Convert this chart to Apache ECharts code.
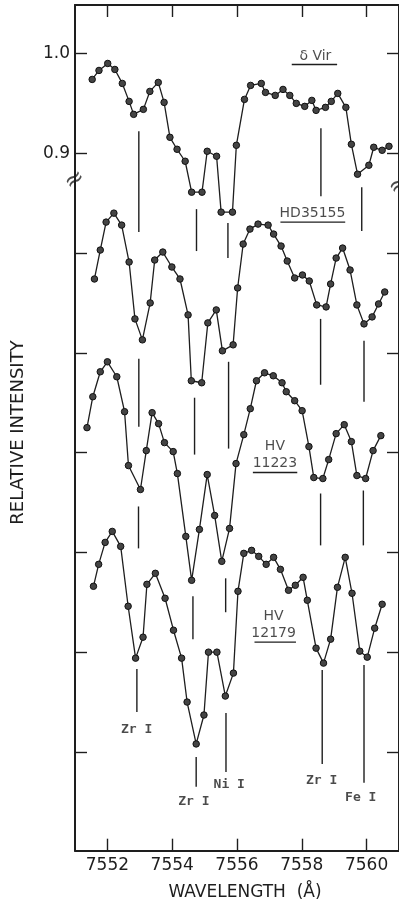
<!DOCTYPE html>
<html>
<head>
<meta charset="utf-8">
<script src="https://cdn.jsdelivr.net/npm/echarts@6/dist/echarts.min.js"></script>
<style>
  html, body { margin: 0; padding: 0; background: #ffffff; }
  #chart { width: 399px; height: 904px; }
</style>
</head>
<body>
<div id="chart"></div>
<script>
// Spectra: [wavelength (Å), relative intensity on the shared, offset scale]
const deltaVir = [
  [7551.53,0.974],[7551.74,0.983],[7552.01,0.990],[7552.23,0.984],[7552.46,0.970],[7552.67,0.952],
  [7552.81,0.939],[7553.11,0.944],[7553.31,0.962],[7553.57,0.971],[7553.75,0.951],[7553.93,0.916],
  [7554.15,0.904],[7554.40,0.892],[7554.60,0.861],[7554.92,0.861],[7555.08,0.902],[7555.37,0.897],
  [7555.51,0.841],[7555.86,0.841],[7555.98,0.908],[7556.23,0.954],[7556.42,0.968],[7556.75,0.970],
  [7556.88,0.961],[7557.18,0.958],[7557.42,0.964],[7557.63,0.958],[7557.83,0.950],[7558.09,0.947],
  [7558.31,0.953],[7558.44,0.943],[7558.73,0.946],[7558.91,0.952],[7559.11,0.960],[7559.36,0.946],
  [7559.53,0.909],[7559.72,0.879],[7560.07,0.888],[7560.22,0.906],[7560.48,0.903],[7560.69,0.907]
];
const hd35155 = [
  [7551.60,0.774],[7551.78,0.803],[7551.96,0.831],[7552.20,0.840],[7552.44,0.828],[7552.67,0.791],
  [7552.85,0.734],[7553.08,0.713],[7553.32,0.750],[7553.46,0.793],[7553.71,0.801],[7553.99,0.786],
  [7554.24,0.774],[7554.49,0.738],[7554.59,0.672],[7554.91,0.670],[7555.10,0.730],[7555.36,0.743],
  [7555.55,0.702],[7555.88,0.708],[7556.02,0.765],[7556.19,0.809],[7556.40,0.824],[7556.65,0.829],
  [7556.96,0.828],[7557.13,0.819],[7557.36,0.807],[7557.55,0.792],[7557.78,0.775],[7558.02,0.778],
  [7558.23,0.772],[7558.46,0.748],[7558.75,0.746],[7558.89,0.769],[7559.06,0.795],[7559.26,0.805],
  [7559.49,0.783],[7559.70,0.748],[7559.92,0.729],[7560.17,0.736],[7560.37,0.749],[7560.56,0.761]
];
const hv11223 = [
  [7551.37,0.625],[7551.55,0.656],[7551.78,0.681],[7552.00,0.691],[7552.29,0.676],[7552.53,0.641],
  [7552.65,0.587],[7553.02,0.563],[7553.20,0.602],[7553.38,0.640],[7553.58,0.629],[7553.76,0.610],
  [7554.03,0.601],[7554.16,0.579],[7554.42,0.516],[7554.60,0.472],[7554.84,0.523],[7555.08,0.578],
  [7555.31,0.537],[7555.53,0.491],[7555.77,0.524],[7555.97,0.589],[7556.21,0.618],[7556.41,0.644],
  [7556.60,0.672],[7556.85,0.680],[7557.12,0.677],[7557.39,0.670],[7557.52,0.661],[7557.78,0.652],
  [7558.01,0.642],[7558.22,0.606],[7558.37,0.575],[7558.65,0.574],[7558.83,0.593],[7559.06,0.619],
  [7559.31,0.628],[7559.53,0.611],[7559.70,0.577],[7559.97,0.574],[7560.20,0.602],[7560.44,0.617]
];
const hv12179 = [
  [7551.57,0.466],[7551.73,0.488],[7551.93,0.510],[7552.15,0.521],[7552.41,0.506],[7552.64,0.446],
  [7552.87,0.394],[7553.10,0.415],[7553.22,0.468],[7553.48,0.479],[7553.78,0.454],[7554.04,0.422],
  [7554.29,0.394],[7554.46,0.350],[7554.74,0.308],[7554.98,0.337],[7555.12,0.400],[7555.38,0.400],
  [7555.64,0.356],[7555.89,0.379],[7556.03,0.461],[7556.21,0.499],[7556.45,0.502],[7556.67,0.496],
  [7556.90,0.488],[7557.13,0.495],[7557.34,0.483],[7557.59,0.462],[7557.80,0.467],[7558.04,0.475],
  [7558.17,0.452],[7558.44,0.404],[7558.67,0.389],[7558.89,0.413],[7559.10,0.465],[7559.34,0.495],
  [7559.55,0.459],[7559.79,0.401],[7560.02,0.395],[7560.25,0.424],[7560.48,0.448]
];

// Axis ticks and labels
const wavelengthTicks = [7552, 7554, 7556, 7558, 7560];
const intensityTicks = [0.3, 0.4, 0.5, 0.6, 0.7, 0.8, 0.9, 1.0];
const intensityLabels = [0.9, 1.0];

// Line identifications below each spectrum: [wavelength, upper end, lower end]
const idMarks = [
  [7552.97,0.922,0.821],[7554.75,0.844,0.802],[7555.72,0.830,0.795],[7558.59,0.925,0.857],[7559.85,0.866,0.822],
  [7552.97,0.694,0.626],[7554.69,0.655,0.598],[7555.74,0.691,0.604],[7558.58,0.734,0.668],[7559.92,0.712,0.651],
  [7552.96,0.546,0.504],[7554.64,0.456,0.413],[7555.65,0.474,0.440],[7558.58,0.559,0.507],[7559.90,0.562,0.507],
  [7552.91,0.383,0.340],[7554.74,0.295,0.265],[7555.66,0.339,0.280],[7558.63,0.382,0.288],[7559.92,0.387,0.269]
];
const idLabels = ['Zr I', 'Zr I', 'Ni I', 'Zr I', 'Fe I'];
const idLabelAnchors = [[7552.90,0.322],[7554.67,0.250],[7555.76,0.267],[7558.61,0.271],[7559.82,0.254]];

// Star designations and their underlines
const starNames = ['δ Vir', 'HD35155', 'HV\n11223', 'HV\n12179'];
const starNameAnchors = [[7558.42,0.997],[7558.33,0.840],[7557.17,0.598],[7557.13,0.427]];
const starUnderlines = [[7557.69,7559.09,0.989],[7557.34,7559.34,0.831],[7556.49,7557.86,0.580],[7556.54,7557.82,0.410]];

// Axis-break positions on the left and right frame
const breakAnchors = [[7551, 0.873], [7561, 0.868]];

const INK = '#1e1e1e';
const X_MIN = 7551, X_MAX = 7561;
const Y_MIN = 0.201, Y_MAX = 1.0486;

const chart = echarts.init(document.getElementById('chart'), null, { renderer: 'canvas' });

function spectrum(name, data) {
  return {
    name: name,
    type: 'line',
    data: data,
    xAxisIndex: 0,
    yAxisIndex: 0,
    symbol: 'circle',
    symbolSize: 6.5,
    showAllSymbol: true,
    clip: false,
    lineStyle: { color: INK, width: 1.3 },
    itemStyle: { color: '#444444', borderColor: '#111', borderWidth: 1 },
    z: 3
  };
}

const segments = idMarks.map(m => [m[0], m[1], m[0], m[2]])
  .concat(starUnderlines.map(u => [u[0], u[2], u[1], u[2]]));

function segmentItem(params, api) {
  const p1 = api.coord([api.value(0), api.value(1)]);
  const p2 = api.coord([api.value(2), api.value(3)]);
  return {
    type: 'line',
    shape: { x1: p1[0], y1: p1[1], x2: p2[0], y2: p2[1] },
    style: { stroke: INK, lineWidth: 1.4 }
  };
}

function textSeries(names, anchors, font, fontSize, lineHeight, weight) {
  return {
    type: 'scatter',
    symbolSize: 1,
    itemStyle: { color: 'rgba(0,0,0,0)' },
    clip: false,
    silent: true,
    data: names.map((n, i) => ({ name: n, value: anchors[i] })),
    label: {
      show: true,
      position: 'inside',
      formatter: '{b}',
      color: INK,
      fontFamily: font,
      fontSize: fontSize,
      fontWeight: weight,
      lineHeight: lineHeight,
      align: 'center',
      verticalAlign: 'middle'
    },
    z: 4
  };
}

const frameLine = { show: true, onZero: false, lineStyle: { color: INK, width: 2 } };
const innerTick = { show: true, inside: true, length: 12, lineStyle: { color: INK, width: 1.4 } };

const option = {
  backgroundColor: '#ffffff',
  animation: false,
  grid: { left: 75, top: 5, width: 328.5, height: 845.7, containLabel: false },
  xAxis: [
    {
      type: 'value', position: 'bottom', min: X_MIN, max: X_MAX,
      axisLine: frameLine,
      axisTick: Object.assign({ customValues: wavelengthTicks }, innerTick),
      axisLabel: {
        customValues: wavelengthTicks, margin: 6, color: INK,
        fontFamily: 'DejaVu Sans', fontSize: 17,
        formatter: v => String(v)
      },
      splitLine: { show: false }
    },
    {
      type: 'value', position: 'top', min: X_MIN, max: X_MAX,
      axisLine: frameLine,
      axisTick: Object.assign({ customValues: wavelengthTicks }, innerTick),
      axisLabel: { show: false },
      splitLine: { show: false }
    }
  ],
  yAxis: [
    {
      type: 'value', position: 'left', min: Y_MIN, max: Y_MAX,
      axisLine: frameLine,
      axisTick: Object.assign({ customValues: intensityTicks }, innerTick),
      axisLabel: {
        customValues: intensityLabels, margin: 5, color: INK,
        fontFamily: 'DejaVu Sans', fontSize: 17,
        formatter: v => v.toFixed(1)
      },
      splitLine: { show: false }
    },
    {
      type: 'value', position: 'right', min: Y_MIN, max: Y_MAX,
      axisLine: frameLine,
      axisTick: Object.assign({ customValues: intensityTicks }, innerTick),
      axisLabel: { show: false },
      splitLine: { show: false }
    }
  ],
  graphic: [
    {
      type: 'text', x: 18.7, y: 432.5, rotation: Math.PI / 2,
      style: {
        text: 'RELATIVE INTENSITY', fill: INK,
        font: '18px "DejaVu Sans"', align: 'center', verticalAlign: 'middle',
        textAlign: 'center', textVerticalAlign: 'middle'
      }
    },
    {
      type: 'text', x: 245, y: 892.7,
      style: {
        text: 'WAVELENGTH  (Å)', fill: INK,
        font: '17px "DejaVu Sans"', align: 'center', verticalAlign: 'middle',
        textAlign: 'center', textVerticalAlign: 'middle'
      }
    }
  ],
  series: [
    spectrum('δ Vir', deltaVir),
    spectrum('HD35155', hd35155),
    spectrum('HV 11223', hv11223),
    spectrum('HV 12179', hv12179),
    {
      type: 'custom',
      renderItem: segmentItem,
      data: segments,
      encode: { x: [0, 2], y: [1, 3] },
      clip: false,
      silent: true,
      z: 2
    },
    textSeries(idLabels, idLabelAnchors, '"DejaVu Sans Mono"', 13, 15, 'bold'),
    textSeries(starNames, starNameAnchors, '"DejaVu Sans"', 14, 17, 'normal'),
    {
      type: 'scatter',
      symbolSize: 1,
      itemStyle: { color: 'rgba(0,0,0,0)' },
      clip: false,
      silent: true,
      data: breakAnchors,
      label: {
        show: true, position: 'inside', formatter: '\u2248', rotate: 35,
        color: INK, fontFamily: 'DejaVu Sans', fontSize: 24
      },
      z: 5
    }
  ]
};

chart.setOption(option);
</script>
</body>
</html>
